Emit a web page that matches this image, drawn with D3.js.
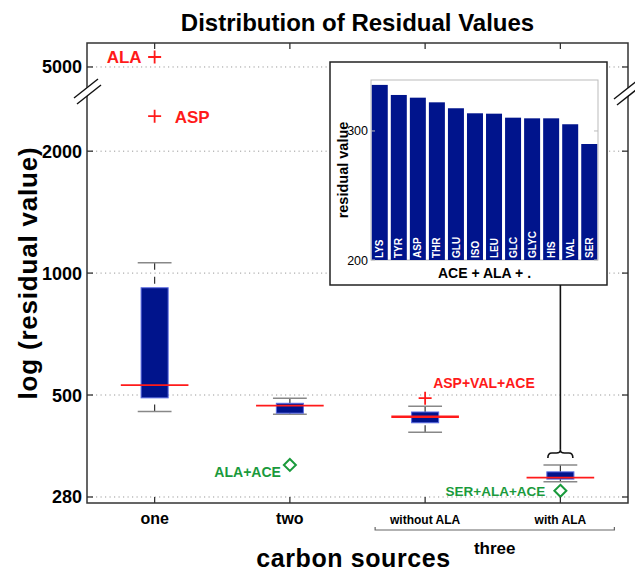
<!DOCTYPE html>
<html><head><meta charset="utf-8">
<script src="https://cdn.jsdelivr.net/npm/d3@7"></script>
<style>body{margin:0;background:#fff}svg{display:block;font-family:"Liberation Sans",Arial,sans-serif}</style>
</head><body>
<script>
// ---- data ----
const categories = ["one", "two", "without ALA", "with ALA"];
const whiskerHigh = [1061, 491, 469, 336];
const q3 = [920, 477, 454, 323];
const medians = [529, 470.5, 441.6, 312.5];
const q1 = [492, 451, 427, 310];
const whiskerLow = [455, 448, 404.5, 305.5];

const plusPos = [1, 1, 3];
const plusVal = [5292, 2440, 491];
const plusLabel = ["ALA", "ASP", "ASP+VAL+ACE"];
const diamondPos = [2, 4];
const diamondVal = [336, 290];
const diamondLabel = ["ALA+ACE", "SER+ALA+ACE"];

const yTicks = [280, 500, 1000, 2000, 5000];

const insetCats = ["LYS","TYR","ASP","THR","GLU","ISO","LEU","GLC","GLYC","HIS","VAL","SER"];
const insetVals = [335.7, 327.9, 325.8, 322.2, 317.6, 313.7, 313.4, 310.3, 309.8, 309.8, 305.2, 289.9];
const insetTicks = [200, 300];

// ---- setup ----
const W = 635, H = 573;
const L = 87, R = 628, T = 43, B = 503;
const navy = "#00148c", red = "#ff1a1a", green = "#1a9a3c";
const svg = d3.select("body").append("svg").attr("width", W).attr("height", H);
svg.append("rect").attr("width", W).attr("height", H).attr("fill", "#fff");

const x = d3.scaleLinear().domain([0.5, 4.5]).range([L, R]);
// broken log axis: jump between ~2832 and ~4386
const y = d3.scaleLog().domain([270.6, 2832, 4386, 5731]).range([B, 90, 90, T]);
const unit = x(2) - x(1);

// title
svg.append("text").attr("x", (L + R) / 2).attr("y", 31).attr("text-anchor", "middle")
  .attr("font-size", 24).attr("font-weight", "bold").text("Distribution of Residual Values");

// gridlines
svg.append("g").selectAll("line").data(yTicks).join("line")
  .attr("x1", L).attr("x2", R).attr("y1", d => y(d)).attr("y2", d => y(d))
  .attr("stroke", "#999").attr("stroke-width", 1).attr("stroke-dasharray", "1.2,3.3");

// boxes
const g = svg.append("g");
categories.forEach((c, i) => {
  const cx = x(i + 1);
  const cw = unit * 0.125, bw = unit * 0.1, mw = unit * 0.25;
  g.append("line").attr("x1", cx).attr("x2", cx).attr("y1", y(whiskerHigh[i])).attr("y2", y(q3[i]))
    .attr("stroke", "#333").attr("stroke-width", 1.2).attr("stroke-dasharray", "7,7");
  g.append("line").attr("x1", cx).attr("x2", cx).attr("y1", y(whiskerLow[i])).attr("y2", y(q1[i]))
    .attr("stroke", "#333").attr("stroke-width", 1.2).attr("stroke-dasharray", "7,7");
  [whiskerHigh[i], whiskerLow[i]].forEach(v => {
    g.append("line").attr("x1", cx - cw).attr("x2", cx + cw).attr("y1", y(v)).attr("y2", y(v))
      .attr("stroke", "#888").attr("stroke-width", 1.5);
  });
  g.append("rect").attr("x", cx - bw).attr("width", 2 * bw)
    .attr("y", y(q3[i])).attr("height", y(q1[i]) - y(q3[i]))
    .attr("fill", navy).attr("stroke", "#5a6ae0").attr("stroke-width", 1);
  g.append("line").attr("x1", cx - mw).attr("x2", cx + mw).attr("y1", y(medians[i])).attr("y2", y(medians[i]))
    .attr("stroke", red).attr("stroke-width", i === 2 ? 2.5 : 1.8);
});

// outliers (+)
plusPos.forEach((p, i) => {
  const cx = x(p), cy = y(plusVal[i]), s = 6.5;
  g.append("path").attr("d", `M${cx - s},${cy}H${cx + s}M${cx},${cy - s}V${cy + s}`)
    .attr("stroke", red).attr("stroke-width", 1.8).attr("fill", "none");
});
svg.append("text").attr("x", x(plusPos[0]) - 13).attr("y", y(plusVal[0]) + 5.5).attr("text-anchor", "end")
  .attr("font-size", 17).attr("font-weight", "bold").attr("fill", red).text(plusLabel[0]);
svg.append("text").attr("x", x(plusPos[1]) + 20).attr("y", y(plusVal[1]) + 6.5)
  .attr("font-size", 17).attr("font-weight", "bold").attr("fill", red).text(plusLabel[1]);
svg.append("text").attr("x", x(plusPos[2]) + 8).attr("y", y(plusVal[2]) - 10)
  .attr("font-size", 14).attr("font-weight", "bold").attr("fill", red).text(plusLabel[2]);

// diamonds
diamondPos.forEach((p, i) => {
  const cx = x(p), cy = y(diamondVal[i]), s = 6;
  g.append("path").attr("d", `M${cx},${cy - s}L${cx + s},${cy}L${cx},${cy + s}L${cx - s},${cy}Z`)
    .attr("stroke", green).attr("stroke-width", 2).attr("fill", "none");
});
svg.append("text").attr("x", x(diamondPos[0]) - 9).attr("y", y(diamondVal[0]) + 12).attr("text-anchor", "end")
  .attr("font-size", 14).attr("font-weight", "bold").attr("fill", green).text(diamondLabel[0]);
svg.append("text").attr("x", x(diamondPos[1]) - 15).attr("y", y(diamondVal[1]) + 5).attr("text-anchor", "end")
  .attr("font-size", 13.5).attr("font-weight", "bold").attr("fill", green).text(diamondLabel[1]);

// ---- inset ----
const iL = 371, iR = 598, iT = 80, iB = 260;
svg.append("rect").attr("x", 330).attr("y", 62).attr("width", 277).attr("height", 223)
  .attr("fill", "#fff").attr("stroke", "#222").attr("stroke-width", 1.5);
const ix = d3.scaleBand().domain(insetCats).range([iL, iR]).paddingInner(0.16).paddingOuter(0.04);
const iy = d3.scaleLinear().domain([200, 339.5]).range([iB, iT]);
svg.append("rect").attr("x", iL).attr("y", iT).attr("width", iR - iL).attr("height", iB - iT)
  .attr("fill", "none").attr("stroke", "#bbb").attr("stroke-width", 1);
svg.append("g").selectAll("rect").data(insetCats).join("rect")
  .attr("x", d => ix(d)).attr("width", ix.bandwidth())
  .attr("y", (d, i) => iy(insetVals[i])).attr("height", (d, i) => iB - iy(insetVals[i]))
  .attr("fill", navy);
svg.append("g").selectAll("text").data(insetCats).join("text")
  .attr("transform", d => `translate(${ix(d) + ix.bandwidth() / 2 + 3.6},${iB - 2}) rotate(-90)`)
  .attr("font-size", 10).attr("font-weight", "bold").attr("fill", "#fff").text(d => d);
insetTicks.forEach(t => {
  svg.append("text").attr("x", iL - 3).attr("y", iy(t) + 4.5).attr("text-anchor", "end")
    .attr("font-size", 12.5).text(t);
  svg.append("line").attr("x1", iL).attr("x2", iL + 4).attr("y1", iy(t)).attr("y2", iy(t)).attr("stroke", "#bbb");
  svg.append("line").attr("x1", iR - 4).attr("x2", iR).attr("y1", iy(t)).attr("y2", iy(t)).attr("stroke", "#bbb");
});
svg.append("text").attr("transform", `translate(${348},${(iT + iB) / 2}) rotate(-90)`)
  .attr("text-anchor", "middle").attr("font-size", 14.5).attr("font-weight", "bold").text("residual value");
svg.append("text").attr("x", (iL + iR) / 2).attr("y", 278).attr("text-anchor", "middle")
  .attr("font-size", 14).attr("font-weight", "bold").text("ACE + ALA + .");

// connector + brace
const bx = x(4), by = y(whiskerHigh[3]) - 12;
svg.append("line").attr("x1", bx).attr("x2", bx).attr("y1", 285).attr("y2", by - 3)
  .attr("stroke", "#111").attr("stroke-width", 1.6);
const bwid = 12.5;
svg.append("path")
  .attr("d", `M${bx - bwid},${by + 5} Q${bx - bwid},${by} ${bx - bwid + 4},${by} L${bx - 4},${by} Q${bx},${by} ${bx},${by - 3} Q${bx},${by} ${bx + 4},${by} L${bx + bwid - 4},${by} Q${bx + bwid},${by} ${bx + bwid},${by + 5}`)
  .attr("fill", "none").attr("stroke", "#111").attr("stroke-width", 1.6);

// ---- axes frame ----
svg.append("rect").attr("x", L).attr("y", T).attr("width", R - L).attr("height", B - T)
  .attr("fill", "none").attr("stroke", "#333").attr("stroke-width", 1.5);
yTicks.forEach(t => {
  svg.append("line").attr("x1", L).attr("x2", L + 6).attr("y1", y(t)).attr("y2", y(t)).attr("stroke", "#333").attr("stroke-width", 1.3);
  svg.append("line").attr("x1", R - 6).attr("x2", R).attr("y1", y(t)).attr("y2", y(t)).attr("stroke", "#333").attr("stroke-width", 1.3);
  svg.append("text").attr("x", L - 5).attr("y", y(t) + 6.5).attr("text-anchor", "end")
    .attr("font-size", 18).attr("font-weight", "bold").text(t);
});
categories.forEach((c, i) => {
  svg.append("line").attr("x1", x(i + 1)).attr("x2", x(i + 1)).attr("y1", B).attr("y2", B - 6).attr("stroke", "#333").attr("stroke-width", 1.3);
  svg.append("line").attr("x1", x(i + 1)).attr("x2", x(i + 1)).attr("y1", T).attr("y2", T + 6).attr("stroke", "#333").attr("stroke-width", 1.3);
  svg.append("text").attr("x", x(i + 1)).attr("y", 524).attr("text-anchor", "middle")
    .attr("font-size", i < 2 ? 16 : 12).attr("font-weight", "bold").text(c);
});
// group bracket for "three"
const gx1 = x(3) - 50, gx2 = x(4) + 54;
svg.append("path").attr("d", `M${gx1},527V530H${gx2}V527`).attr("fill", "none").attr("stroke", "#666").attr("stroke-width", 1.2);
svg.append("text").attr("x", (gx1 + gx2) / 2).attr("y", 554).attr("text-anchor", "middle")
  .attr("font-size", 17).attr("font-weight", "bold").text("three");
svg.append("text").attr("x", (L + R) / 2 - 4).attr("y", 567).attr("text-anchor", "middle")
  .attr("font-size", 25).attr("letter-spacing", 0.6).attr("font-weight", "bold").text("carbon sources");
svg.append("text").attr("transform", `translate(37,${(T + B) / 2}) rotate(-90)`).attr("text-anchor", "middle")
  .attr("font-size", 26).attr("letter-spacing", 0.8).attr("font-weight", "bold").text("log (residual value)");

// axis-break marks
function brk(cx, cy) {
  svg.append("path").attr("d", `M${cx - 11},${cy + 6}L${cx + 11},${cy - 12}L${cx + 14},${cy - 6}L${cx - 8},${cy + 12}Z`)
    .attr("fill", "#fff").attr("stroke", "none");
  svg.append("line").attr("x1", cx - 12).attr("y1", cy + 7).attr("x2", cx + 12).attr("y2", cy - 12).attr("stroke", "#111").attr("stroke-width", 1.4);
  svg.append("line").attr("x1", cx - 9).attr("y1", cy + 13).attr("x2", cx + 15).attr("y2", cy - 6).attr("stroke", "#111").attr("stroke-width", 1.4);
}
brk(L - 1, 91);
brk(R - 2, 92);
</script>
</body></html>
